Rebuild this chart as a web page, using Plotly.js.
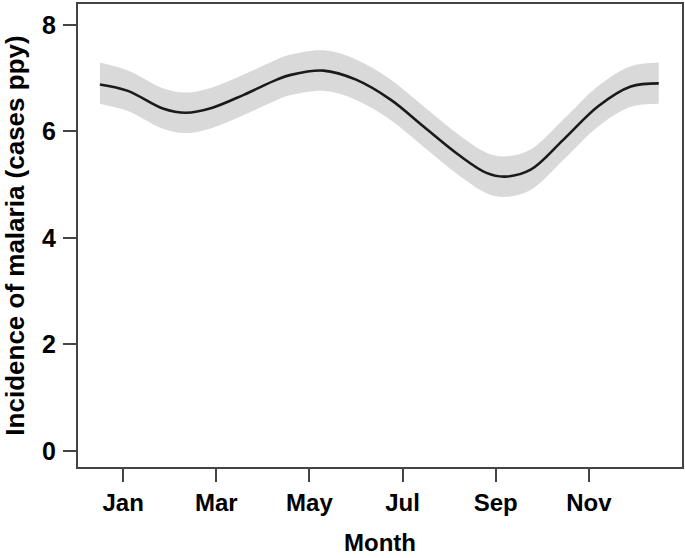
<!DOCTYPE html>
<html>
<head>
<meta charset="utf-8">
<script src="https://cdn.plot.ly/plotly-3.0.1.min.js"></script>
<style>html,body{margin:0;padding:0;background:#fff;}#chart{width:685px;height:558px;}</style>
</head>
<body>
<div id="chart"></div>
<script>
// month position (1 = mid Jan) and incidence estimates
const months = [0.5, 1.1, 1.85, 2.35, 2.9, 3.6, 4.3, 4.6, 5.3, 6.0, 6.75, 7.45, 8.2, 8.8, 9.2, 9.75, 10.45, 11.2, 11.9, 12.5];
const incidence = [6.88, 6.76, 6.43, 6.35, 6.44, 6.69, 6.97, 7.06, 7.14, 6.97, 6.59, 6.09, 5.56, 5.22, 5.15, 5.28, 5.84, 6.47, 6.84, 6.90];
const upper = [7.29, 7.14, 6.81, 6.73, 6.82, 7.07, 7.35, 7.44, 7.52, 7.35, 6.97, 6.47, 5.94, 5.60, 5.53, 5.66, 6.22, 6.85, 7.22, 7.29];
const lower = [6.52, 6.38, 6.05, 5.97, 6.06, 6.31, 6.59, 6.68, 6.76, 6.59, 6.21, 5.71, 5.18, 4.84, 4.77, 4.90, 5.46, 6.09, 6.46, 6.52];
const tickVals = [1, 3, 5, 7, 9, 11];
const tickText = ["Jan", "Mar", "May", "Jul", "Sep", "Nov"];
const yTicks = [0, 2, 4, 6, 8];

const font = "Liberation Sans, Arial, sans-serif";
const traces = [
  {x: months, y: lower, mode: "lines", line: {width: 0, shape: "spline"}, hoverinfo: "skip", showlegend: false},
  {x: months, y: upper, mode: "lines", fill: "tonexty", fillcolor: "#d9d9d9", line: {width: 0, shape: "spline"}, hoverinfo: "skip", showlegend: false},
  {x: months, y: incidence, mode: "lines", line: {color: "#1a1a1a", width: 2.6, shape: "spline"}, showlegend: false}
];
const layout = {
  width: 685, height: 558,
  margin: {l: 78, r: 3, t: 4, b: 91},
  paper_bgcolor: "#fff", plot_bgcolor: "#fff",
  font: {family: font, color: "#000", size: 24, weight: "bold"},
  xaxis: {
    range: [0.03, 13.0], tickvals: tickVals, ticktext: tickText,
    showgrid: false, zeroline: false, showline: true, mirror: true,
    linecolor: "#444", linewidth: 2.2, ticks: "outside", ticklen: 13, tickwidth: 2, tickcolor: "#444",
    ticklabelstandoff: 0,
    tickfont: {size: 24, family: font, weight: "bold"},
    title: {text: "Month", font: {size: 24, family: font, weight: "bold"}, standoff: 19},
    automargin: false
  },
  yaxis: {
    range: [-0.3, 8.39], tickvals: yTicks,
    showgrid: false, zeroline: false, showline: true, mirror: true,
    linecolor: "#444", linewidth: 2.2, ticks: "outside", ticklen: 13, tickwidth: 2, tickcolor: "#444",
    ticklabelstandoff: 2,
    tickfont: {size: 25, family: font, weight: "bold"},
    title: {text: "Incidence of malaria (cases ppy)", font: {size: 26, family: font, weight: "bold"}, standoff: 10},
    automargin: false
  }
};
Plotly.newPlot("chart", traces, layout, {displayModeBar: false, staticPlot: true});
</script>
</body>
</html>
